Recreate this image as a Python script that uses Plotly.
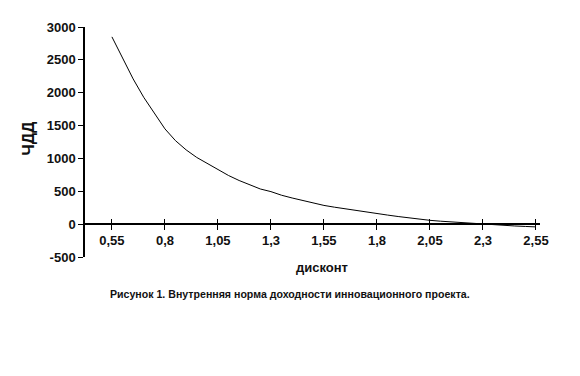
import plotly.graph_objects as go

discount = [0.55, 0.60, 0.65, 0.70, 0.75, 0.80, 0.85, 0.90, 0.95, 1.00, 1.05,
            1.10, 1.15, 1.20, 1.25, 1.30, 1.35, 1.40, 1.45, 1.50, 1.55,
            1.60, 1.65, 1.70, 1.75, 1.80, 1.85, 1.90, 1.95, 2.00, 2.05,
            2.10, 2.15, 2.20, 2.25, 2.30, 2.35, 2.40, 2.45, 2.50, 2.55]
npv = [2850, 2540, 2210, 1930, 1690, 1450, 1270, 1130, 1015, 920, 822,
       740, 664, 598, 535, 495, 440, 398, 358, 320, 285,
       258, 232, 207, 183, 160, 138, 116, 95, 76, 58,
       45, 33, 22, 12, 0, -12, -20, -28, -35, -42]
x_ticks = [0.55, 0.8, 1.05, 1.3, 1.55, 1.8, 2.05, 2.3, 2.55]
x_tick_labels = ["0,55", "0,8", "1,05", "1,3", "1,55", "1,8", "2,05", "2,3", "2,55"]
y_ticks = [-500, 0, 500, 1000, 1500, 2000, 2500, 3000]
y_tick_labels = ["-500", "0", "500", "1000", "1500", "2000", "2500", "3000"]

x_title = "дисконт"
y_title = "ЧДД"
caption = "Рисунок 1. Внутренняя норма доходности инновационного проекта."

XR = [0.423, 2.569]
YR = [-500, 3000]
zero_pos = (0 - YR[0]) / (YR[1] - YR[0])

FONT = "Liberation Sans, Arial, sans-serif"
tickfont = dict(family=FONT, size=13, color="#111", weight="bold")

fig = go.Figure()
fig.add_trace(go.Scatter(x=discount, y=npv, mode="lines",
                         line=dict(color="black", width=1), showlegend=False,
                         hoverinfo="skip"))
# invisible trace for the overlay axis
fig.add_trace(go.Scatter(x=[XR[0]], y=[0], xaxis="x2", mode="markers",
                         marker=dict(opacity=0), showlegend=False, hoverinfo="skip"))

fig.update_layout(
    width=572, height=360,
    margin=dict(l=77, r=40, t=16, b=111),
    paper_bgcolor="white", plot_bgcolor="white",
    font=dict(family=FONT, color="black"),
    xaxis=dict(range=XR, anchor="free", position=zero_pos,
               tickvals=x_ticks, ticktext=x_tick_labels,
               ticks="outside", ticklen=5, tickwidth=1, tickcolor="black",
               showline=True, linecolor="black", linewidth=1.5,
               showgrid=False, zeroline=False,
               tickfont=tickfont),
    xaxis2=dict(range=XR, overlaying="x", anchor="free", position=zero_pos,
                tickvals=x_ticks, showticklabels=False,
                ticks="inside", ticklen=5, tickwidth=1, tickcolor="black",
                showline=False, showgrid=False, zeroline=False),
    yaxis=dict(range=YR, tickvals=y_ticks, ticktext=y_tick_labels,
               ticks="outside", ticklen=5, tickwidth=1, tickcolor="black",
               showline=True, linecolor="black", linewidth=1.5,
               showgrid=False, zeroline=False,
               tickfont=tickfont),
)

fig.add_annotation(text="<b>%s</b>" % x_title, xref="paper", yref="paper",
                   x=0.521, y=-0.086, showarrow=False,
                   font=dict(family=FONT, size=13, color="#111"))
fig.add_annotation(text="<b>%s</b>" % y_title, xref="paper", yref="paper",
                   x=-0.123, y=0.515, xanchor="center", yanchor="middle",
                   showarrow=False, textangle=-90,
                   font=dict(family=FONT, size=16, color="#111"))
fig.add_annotation(text="<b>%s</b>" % caption, xref="paper", yref="paper",
                   x=0.45, y=-0.197, showarrow=False,
                   font=dict(family=FONT, size=10.6, color="#111"))

fig.write_html("out.html")
